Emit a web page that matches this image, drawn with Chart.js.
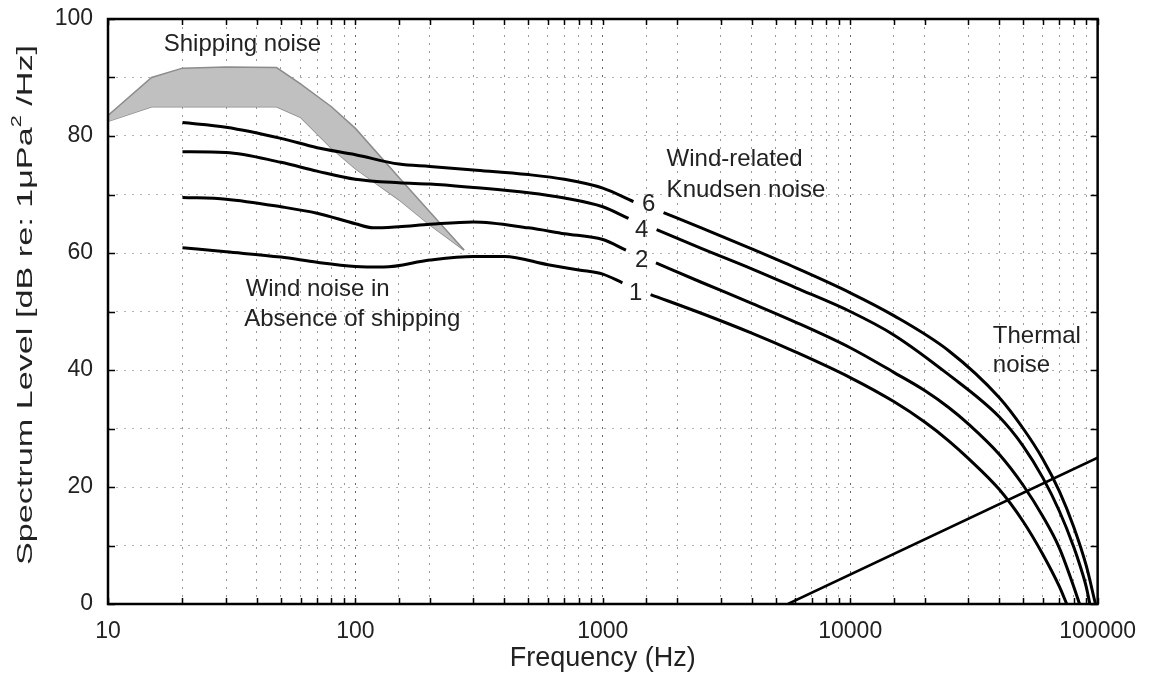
<!DOCTYPE html>
<html>
<head>
<meta charset="utf-8">
<title>Ambient noise spectrum</title>
<script src="https://cdn.jsdelivr.net/npm/chart.js@4.4.1/dist/chart.umd.min.js"></script>
<style>
  html, body { margin: 0; padding: 0; background: #fff; }
</style>
</head>
<body>
<canvas id="noiseChart" width="1150" height="675"></canvas>
<script>
// axis labels
const xTicks = [10, 100, 1000, 10000, 100000];
const yTicks = [0, 20, 40, 60, 80, 100];

// shipping noise band (upper / lower edge)
const shipFreq  = [10, 15, 20, 30, 48, 60, 80, 100, 150, 200, 275];
const shipUpper = [83.5, 90, 91.6, 91.8, 91.7, 88.9, 85, 81.3, 72.9, 67, 60.5];
const shipLower = [82.5, 85, 85, 85, 85, 83.2, 77.9, 74.4, 69.1, 64.8, 60.5];

// wind noise, one curve per wind speed; null leaves room for the curve label
const wind6Freq  = [20, 30, 50, 70, 100, 150, 200, 300, 500, 700, 1000, 1330, 1500, 1760, 2500, 4000, 6000, 10000, 15000, 25000, 40000, 50000, 60000, 70000, 80000, 90000, 98000];
const wind6Level = [82.3, 81.5, 79.6, 78.0, 76.8, 75.2, 74.8, 74.2, 73.4, 72.6, 71.1, 68.8, null, 66.9, 64.3, 60.7, 57.5, 53.2, 49.3, 43.3, 35.3, 30.0, 24.8, 19.3, 13.2, 6.5, 0];

const wind4Freq  = [20, 30, 50, 70, 100, 150, 200, 300, 500, 700, 1000, 1270, 1450, 1650, 2500, 4000, 6000, 10000, 15000, 25000, 40000, 50000, 60000, 70000, 80000, 85000, 90000, 93000];
const wind4Level = [77.3, 77.2, 75.5, 74.0, 72.6, 72.0, 71.8, 71.2, 70.3, 69.4, 67.9, 65.9, null, 64.0, 60.8, 57.3, 54.1, 50.0, 46.0, 39.2, 32.0, 27.0, 21.6, 15.9, 9.8, 6.5, 2.9, 0];

const wind2Freq  = [20, 30, 50, 70, 100, 118, 150, 200, 300, 500, 700, 1000, 1240, 1420, 1640, 2500, 4000, 6000, 10000, 15000, 20000, 25000, 30000, 40000, 50000, 60000, 70000, 80000, 84500];
const wind2Level = [69.5, 69.2, 67.9, 66.8, 65.0, 64.3, 64.5, 64.9, 65.3, 64.3, 63.3, 62.3, 60.5, null, 58.3, 55.0, 51.4, 48.2, 43.8, 39.6, 36.5, 33.6, 30.8, 25.6, 20.3, 15.0, 9.6, 3.0, 0];

const wind1Freq  = [20, 30, 50, 70, 100, 130, 200, 300, 400, 600, 800, 1000, 1200, 1380, 1560, 2500, 4000, 6000, 10000, 15000, 20000, 25000, 30000, 40000, 50000, 60000, 70000, 75000];
const wind1Level = [60.9, 60.2, 59.3, 58.4, 57.7, 57.6, 58.8, 59.4, 59.4, 58.0, 57.1, 56.4, 54.9, null, 52.9, 49.7, 46.3, 43.1, 38.7, 34.6, 31.1, 27.9, 24.9, 19.6, 14.1, 8.5, 3.0, 0];

// thermal noise
const thermalFreq  = [5600, 100000];
const thermalLevel = [0, 25];

function toPoints(freq, level) {
  return freq.map((f, i) => ({ x: f, y: level[i] }));
}

const FONT = '"Liberation Sans", Arial, Helvetica, sans-serif';

// text placed in data coordinates (frequency, level)
const notes = [
  { text: 'Shipping noise', f: 16.8, db: 94.5 },
  { text: 'Wind-related', f: 1811, db: 74.8 },
  { text: 'Knudsen noise', f: 1811, db: 69.6 },
  { text: 'Wind noise in', f: 36, db: 52.7 },
  { text: 'Absence of shipping', f: 35.5, db: 47.5 },
  { text: 'Thermal', f: 37700, db: 44.6 },
  { text: 'noise', f: 37700, db: 39.6 },
  { text: '6', f: 1533, db: 67.1, center: true },
  { text: '4', f: 1436, db: 62.8, center: true },
  { text: '2', f: 1436, db: 57.6, center: true },
  { text: '1', f: 1358, db: 52.0, center: true }
];

function isDecade(v) {
  const l = Math.log10(v);
  return Math.abs(l - Math.round(l)) < 1e-9;
}

const notesPlugin = {
  id: 'notes',
  afterDatasetsDraw(chart) {
    const { ctx, scales } = chart;
    ctx.save();
    ctx.font = '24px ' + FONT;
    ctx.fillStyle = '#222';
    ctx.textBaseline = 'alphabetic';
    notes.forEach(n => {
      ctx.textAlign = n.center ? 'center' : 'left';
      ctx.fillText(n.text, scales.x.getPixelForValue(n.f), scales.y.getPixelForValue(n.db));
    });
    ctx.restore();
  }
};

// box round the plot with inward tick marks
const framePlugin = {
  id: 'frame',
  afterDraw(chart) {
    const { ctx, chartArea: a, scales } = chart;
    ctx.save();
    ctx.strokeStyle = '#000';
    ctx.lineWidth = 1.5;
    ctx.beginPath();
    scales.y.ticks.forEach(t => {
      const y = Math.round(scales.y.getPixelForValue(t.value)) + 0.5;
      ctx.moveTo(a.left, y); ctx.lineTo(a.left + 7, y);
      ctx.moveTo(a.right, y); ctx.lineTo(a.right - 7, y);
    });
    scales.x.ticks.forEach(t => {
      const x = Math.round(scales.x.getPixelForValue(t.value)) + 0.5;
      ctx.moveTo(x, a.bottom); ctx.lineTo(x, a.bottom - 6);
      ctx.moveTo(x, a.top); ctx.lineTo(x, a.top + 6);
    });
    ctx.stroke();
    ctx.lineWidth = 2.5;
    ctx.strokeRect(a.left, a.top, a.right - a.left, a.bottom - a.top);
    ctx.restore();
  }
};

// rotated y title, stretched along its length, with a raised "2"
const yTitlePlugin = {
  id: 'yTitle',
  afterDraw(chart) {
    const { ctx } = chart;
    const head = 'Spectrum Level [dB re: 1\u03bcPa';
    const sup = '2';
    const tail = ' /Hz]';
    ctx.save();
    ctx.fillStyle = '#222';
    ctx.textBaseline = 'middle';
    ctx.font = '22px ' + FONT;
    const w1 = ctx.measureText(head).width;
    const w3 = ctx.measureText(tail).width;
    ctx.font = '14px ' + FONT;
    const w2 = ctx.measureText(sup).width;
    const total = w1 + w2 + w3;
    ctx.translate(26, 305);
    ctx.rotate(-Math.PI / 2);
    ctx.scale(520 / total, 1);
    let x = -total / 2;
    ctx.textAlign = 'left';
    ctx.font = '22px ' + FONT;
    ctx.fillText(head, x, 0);
    x += w1;
    ctx.font = '14px ' + FONT;
    ctx.fillText(sup, x, -9);
    x += w2;
    ctx.font = '22px ' + FONT;
    ctx.fillText(tail, x, 0);
    ctx.restore();
  }
};

const curveStyle = {
  borderColor: '#000',
  borderWidth: 3,
  pointRadius: 0,
  fill: false,
  cubicInterpolationMode: 'monotone'
};

const ctx = document.getElementById('noiseChart').getContext('2d');
const noiseChart = new Chart(ctx, {
  type: 'line',
  data: {
    datasets: [
      { label: '6', data: toPoints(wind6Freq, wind6Level), ...curveStyle },
      { label: '4', data: toPoints(wind4Freq, wind4Level), ...curveStyle },
      { label: '2', data: toPoints(wind2Freq, wind2Level), ...curveStyle },
      { label: '1', data: toPoints(wind1Freq, wind1Level), ...curveStyle },
      { label: 'Thermal noise', data: toPoints(thermalFreq, thermalLevel), borderColor: '#000', borderWidth: 2.5, pointRadius: 0, fill: false },
      {
        label: 'Shipping noise',
        data: toPoints(shipFreq, shipUpper),
        borderColor: '#8c8c8c',
        borderWidth: 1.5,
        backgroundColor: '#c0c0c0',
        pointRadius: 0,
        fill: '+1'
      },
      {
        label: 'Shipping noise (low)',
        data: toPoints(shipFreq, shipLower),
        borderColor: '#8c8c8c',
        borderWidth: 1.5,
        pointRadius: 0,
        fill: false
      }
    ]
  },
  options: {
    responsive: false,
    animation: false,
    events: [],
    layout: { padding: { left: 0, right: 50, top: 19, bottom: 0 } },
    plugins: {
      legend: { display: false },
      tooltip: { enabled: false }
    },
    scales: {
      x: {
        type: 'logarithmic',
        min: 10,
        max: 100000,
        grid: {
          drawTicks: false,
          lineWidth: 1,
          color: c => (c.tick && isDecade(c.tick.value)) ? 'rgba(0,0,0,0.6)' : 'rgba(0,0,0,0.4)'
        },
        border: { display: false, dash: [2, 6] },
        ticks: {
          autoSkip: false,
          maxRotation: 0,
          padding: 14,
          color: '#222',
          font: { family: FONT, size: 23 },
          callback: v => xTicks.includes(v) ? String(v) : ''
        },
        title: {
          display: true,
          text: 'Frequency (Hz)',
          color: '#222',
          font: { family: FONT, size: 27 },
          padding: 0
        },
        afterFit: scale => { scale.height = 71; }
      },
      y: {
        min: 0,
        max: 100,
        grid: {
          drawTicks: false,
          lineWidth: 1,
          color: 'rgba(0,0,0,0.3)'
        },
        border: { display: false, dash: [2, 6] },
        ticks: {
          stepSize: 10,
          padding: 15,
          color: '#222',
          font: { family: FONT, size: 23 },
          callback: v => yTicks.includes(v) ? String(v) : ''
        },
        afterFit: scale => {
          scale.width = 108;
          // labels at 0 and 100 may hang over the plot edges
          scale.paddingTop = 0;
          scale.paddingBottom = 0;
        }
      }
    }
  },
  plugins: [notesPlugin, framePlugin, yTitlePlugin]
});
</script>
</body>
</html>
